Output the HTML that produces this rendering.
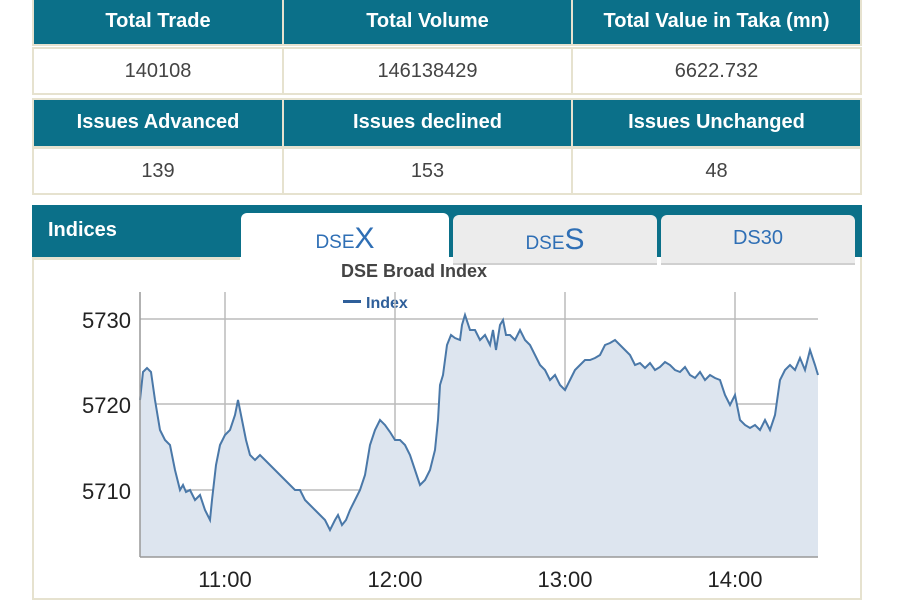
<!DOCTYPE html>
<html><head><style>
body{margin:0;width:900px;height:600px;background:#fff;position:relative;overflow:hidden;font-family:"Liberation Sans",Arial,sans-serif}
.c{position:absolute;box-sizing:border-box;text-align:center}
.h{background:#0b7089;color:#fff;font-size:20px;font-weight:bold;border:2px solid #e6e2cf}
.v{background:#fff;color:#444;font-size:20px;border:2px solid #e6e2cf}
</style></head><body>
<div class="c h" style="left:32px;top:-2px;width:252px;height:48px;line-height:42px">Total Trade</div>
<div class="c h" style="left:282px;top:-2px;width:291px;height:48px;line-height:42px">Total Volume</div>
<div class="c h" style="left:571px;top:-2px;width:291px;height:48px;line-height:42px">Total Value in Taka (mn)</div>
<div class="c v" style="left:32px;top:47px;width:252px;height:48px;line-height:44px">140108</div>
<div class="c v" style="left:282px;top:47px;width:291px;height:48px;line-height:44px">146138429</div>
<div class="c v" style="left:571px;top:47px;width:291px;height:48px;line-height:44px">6622.732</div>
<div class="c h" style="left:32px;top:98px;width:252px;height:50px;line-height:44px">Issues Advanced</div>
<div class="c h" style="left:282px;top:98px;width:291px;height:50px;line-height:44px">Issues declined</div>
<div class="c h" style="left:571px;top:98px;width:291px;height:50px;line-height:44px">Issues Unchanged</div>
<div class="c v" style="left:32px;top:147px;width:252px;height:48px;line-height:44px">139</div>
<div class="c v" style="left:282px;top:147px;width:291px;height:48px;line-height:44px">153</div>
<div class="c v" style="left:571px;top:147px;width:291px;height:48px;line-height:44px">48</div>

<div style="position:absolute;left:32px;top:205px;width:830px;height:395px;box-sizing:border-box;border:2px solid #e6e2cf;border-top:none;background:#fff"></div>
<div style="position:absolute;left:32px;top:205px;width:830px;height:52px;background:#0b7089"></div>
<div style="position:absolute;left:32px;top:257px;width:208px;height:3px;background:#e6e2cf"></div>
<div style="position:absolute;left:48px;top:219px;color:#fff;font-size:20px;font-weight:bold">Indices</div>
<div class="c" style="left:241px;top:213px;width:208px;height:55px;background:#fff;border-radius:6px 6px 0 0;color:#2f6fb5;font-size:19px;line-height:52px">DSE<span style="font-size:30px">X</span></div>
<div class="c" style="left:453px;top:215px;width:204px;height:50px;background:#ececec;border-radius:6px 6px 0 0;border-bottom:2px solid #d0d0d0;color:#2f6fb5;font-size:19px;line-height:50px">DSE<span style="font-size:30px">S</span></div>
<div class="c" style="left:661px;top:215px;width:194px;height:50px;background:#ececec;border-radius:6px 6px 0 0;border-bottom:2px solid #d0d0d0;color:#2f6fb5;font-size:20px;line-height:46px">DS30</div>

<svg style="position:absolute;left:0;top:0" width="900" height="600">
<text x="341" y="277" font-size="18" font-weight="bold" fill="#444" font-family="Liberation Sans,Arial,sans-serif">DSE Broad Index</text>
<rect x="343" y="300" width="18" height="3" fill="#2f5f9a"/>
<text x="366" y="308" font-size="16" font-weight="bold" fill="#2f5f9a" font-family="Liberation Sans,Arial,sans-serif">Index</text>
<g stroke="#bbb" stroke-width="1.5">
<line x1="140" y1="319" x2="818" y2="319"/><line x1="140" y1="404" x2="818" y2="404"/><line x1="140" y1="490" x2="818" y2="490"/>
<line x1="225" y1="292" x2="225" y2="557"/><line x1="395" y1="292" x2="395" y2="557"/><line x1="565" y1="292" x2="565" y2="557"/><line x1="735" y1="292" x2="735" y2="557"/>
</g>
<polygon fill="#dde5ef" points="140,557 140,400 143,372 147,368 151,372 155,400 160,430 165,440 170,445 175,470 180,490 183,485 186,492 190,490 195,500 200,495 205,510 210,520 212,500 216,465 220,445 225,435 230,430 235,415 238,400 242,420 246,440 250,455 255,460 260,455 265,460 270,465 275,470 280,475 285,480 290,485 295,490 300,490 305,500 310,505 315,510 320,515 325,520 330,530 335,520 338,515 342,525 346,520 350,510 355,500 360,490 365,475 370,445 375,430 380,420 385,425 390,432 395,440 400,440 405,445 410,455 415,470 420,485 425,480 430,470 435,450 438,420 440,385 443,375 447,345 451,335 455,338 460,340 462,325 465,315 470,330 475,330 480,340 485,335 490,345 493,330 496,350 500,325 503,320 506,335 510,335 515,340 520,330 525,340 530,345 535,355 540,365 545,370 550,380 555,375 560,385 565,390 570,380 575,370 580,365 585,360 590,360 595,358 600,355 605,345 610,343 615,340 620,345 625,350 630,355 635,365 640,363 645,368 650,363 655,370 660,367 665,362 670,365 675,370 680,372 685,367 690,375 695,378 700,372 705,380 710,375 715,378 720,380 725,395 730,405 735,395 740,420 745,425 750,428 755,425 760,430 765,420 770,430 775,415 780,380 785,370 790,365 795,370 800,358 805,370 810,350 815,365 818,375 818,557"/>
<polyline fill="none" stroke="#4a78a8" stroke-width="2" points="140,400 143,372 147,368 151,372 155,400 160,430 165,440 170,445 175,470 180,490 183,485 186,492 190,490 195,500 200,495 205,510 210,520 212,500 216,465 220,445 225,435 230,430 235,415 238,400 242,420 246,440 250,455 255,460 260,455 265,460 270,465 275,470 280,475 285,480 290,485 295,490 300,490 305,500 310,505 315,510 320,515 325,520 330,530 335,520 338,515 342,525 346,520 350,510 355,500 360,490 365,475 370,445 375,430 380,420 385,425 390,432 395,440 400,440 405,445 410,455 415,470 420,485 425,480 430,470 435,450 438,420 440,385 443,375 447,345 451,335 455,338 460,340 462,325 465,315 470,330 475,330 480,340 485,335 490,345 493,330 496,350 500,325 503,320 506,335 510,335 515,340 520,330 525,340 530,345 535,355 540,365 545,370 550,380 555,375 560,385 565,390 570,380 575,370 580,365 585,360 590,360 595,358 600,355 605,345 610,343 615,340 620,345 625,350 630,355 635,365 640,363 645,368 650,363 655,370 660,367 665,362 670,365 675,370 680,372 685,367 690,375 695,378 700,372 705,380 710,375 715,378 720,380 725,395 730,405 735,395 740,420 745,425 750,428 755,425 760,430 765,420 770,430 775,415 780,380 785,370 790,365 795,370 800,358 805,370 810,350 815,365 818,375"/>
<line x1="140" y1="292" x2="140" y2="557" stroke="#999" stroke-width="1.5"/>
<line x1="140" y1="557" x2="818" y2="557" stroke="#999" stroke-width="1.5"/>
<g font-size="22" fill="#222" font-family="Liberation Sans,Arial,sans-serif">
<text x="131" y="328" text-anchor="end">5730</text>
<text x="131" y="413" text-anchor="end">5720</text>
<text x="131" y="499" text-anchor="end">5710</text>
<text x="225" y="587" text-anchor="middle">11:00</text>
<text x="395" y="587" text-anchor="middle">12:00</text>
<text x="565" y="587" text-anchor="middle">13:00</text>
<text x="735" y="587" text-anchor="middle">14:00</text>
</g>
</svg>
</body></html>
